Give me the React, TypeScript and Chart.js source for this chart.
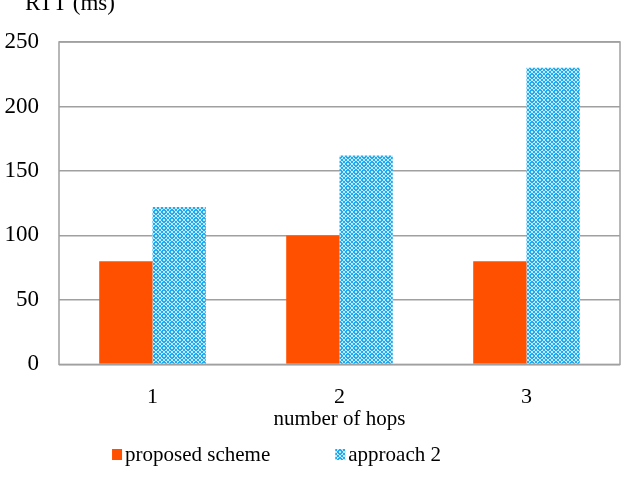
import React, { useEffect, useRef } from "react";
import { Chart, registerables } from "chart.js";

Chart.register(...registerables);

const categories = ["1", "2", "3"];
const proposedScheme = [80, 100, 80];
const approach2 = [122, 162, 230];
const seriesNames = ["proposed scheme", "approach 2"];
const yTicks = [0, 50, 100, 150, 200, 250];
const yTitle = "RTT (ms)";
const xTitle = "number of hops";

const FONT = "'Liberation Serif', 'Times New Roman', serif";

function makePattern(): CanvasPattern | string {
  const c = document.createElement("canvas");
  c.width = 8;
  c.height = 8;
  const g = c.getContext("2d");
  if (!g) return "#40c0f0";
  const tile = [
    "01100110",
    "10011001",
    "10111101",
    "01100110",
    "01100110",
    "10111101",
    "10011001",
    "01100110",
  ];
  for (let y = 0; y < 8; y++) {
    for (let x = 0; x < 8; x++) {
      g.fillStyle = tile[y][x] === "1" ? "#22aaee" : "#bfe8fb";
      g.fillRect(x, y, 1, 1);
    }
  }
  const p = g.createPattern(c, "repeat");
  return p || "#40c0f0";
}

export default function App() {
  const ref = useRef<HTMLCanvasElement | null>(null);
  useEffect(() => {
    if (!ref.current) return;
    const pattern = makePattern();
    const framePlugin = {
      id: "frame",
      afterDraw(chart: any) {
        const { ctx, chartArea } = chart;
        ctx.save();
        ctx.strokeStyle = "#a0a0a0";
        ctx.lineWidth = 1.5;
        ctx.strokeRect(chartArea.left, chartArea.top, chartArea.right - chartArea.left, chartArea.bottom - chartArea.top);
        ctx.fillStyle = "#000";
        ctx.font = `23px ${FONT}`;
        ctx.textBaseline = "middle";
        ctx.textAlign = "left";
        ctx.fillText(yTitle, 25, 4);

        // legend
        ctx.font = `21px ${FONT}`;
        const ly = 455;
        const items = chart.data.datasets.map((d: any) => ({ label: d.label, color: d.backgroundColor }));
        const box = 10;
        const gapBox = 3;
        const gapItems = 65;
        const widths = items.map((it: any) => box + gapBox + ctx.measureText(it.label).width);
        const total = widths.reduce((a: number, b: number) => a + b, 0) + gapItems * (items.length - 1);
        let x = chart.width / 2 - 34 - total / 2;
        items.forEach((it: any, i: number) => {
          ctx.fillStyle = it.color;
          ctx.fillRect(x, ly - 6, box, 11);
          ctx.fillStyle = "#000";
          ctx.fillText(it.label, x + box + gapBox, ly);
          x += widths[i] + gapItems;
        });
        ctx.restore();
      },
    };
    const chart = new Chart(ref.current, {
      type: "bar",
      data: {
        labels: categories,
        datasets: [
          {
            label: seriesNames[0],
            data: proposedScheme,
            backgroundColor: "#ff5000",
            borderWidth: 0,
            categoryPercentage: 0.57,
            barPercentage: 1,
          },
          {
            label: seriesNames[1],
            data: approach2,
            backgroundColor: pattern as any,
            borderWidth: 0,
            categoryPercentage: 0.57,
            barPercentage: 1,
          },
        ],
      },
      options: {
        animation: false,
        responsive: false,
        maintainAspectRatio: false,
        layout: { padding: { top: 42, right: 1, left: 0, bottom: 54 } },
        plugins: {
          tooltip: { enabled: false },
          legend: { display: false },
        },
        scales: {
          x: {
            grid: { display: false },
            border: { display: false },
            ticks: { font: { family: FONT, size: 22 }, color: "#000", padding: 12 },
            title: {
              display: true,
              text: xTitle,
              font: { family: FONT, size: 21 },
              color: "#000",
              padding: { top: -16, bottom: 0 },
            },
          },
          y: {
            min: 0,
            max: 250,
            afterBuildTicks: (axis: any) => {
              axis.ticks = yTicks.map((v) => ({ value: v }));
            },
            afterFit: (axis: any) => {
              axis.width = 59;
            },
            grid: { color: "#a0a0a0", lineWidth: 1.5, drawTicks: false },
            border: { display: false },
            ticks: { font: { family: FONT, size: 23 }, color: "#000", padding: 20 },
          },
        },
      },
      plugins: [framePlugin],
    } as any);
    return () => chart.destroy();
  }, []);
  return (
    <div style={{ position: "absolute", left: 0, top: 0, width: 621, height: 486, background: "#fff" }}>
      <canvas ref={ref} width={621} height={486} style={{ width: 621, height: 486 }} />
    </div>
  );
}
